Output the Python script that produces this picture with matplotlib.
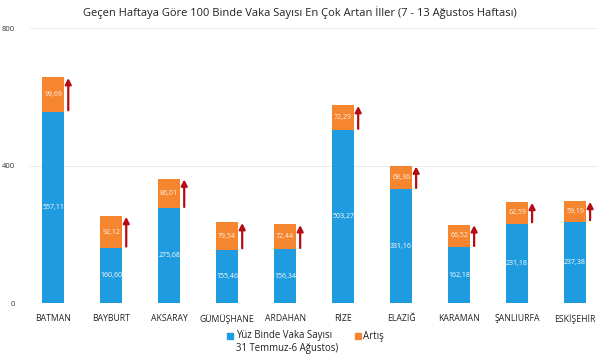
import matplotlib
matplotlib.use("Agg")
import matplotlib.pyplot as plt
from matplotlib.patches import Rectangle
import numpy as np

plt.rcParams['font.family'] = ['Open Sans', 'DejaVu Sans']

title = "Geçen Haftaya Göre 100 Binde Vaka Sayısı En Çok Artan İller (7 - 13 Ağustos Haftası)"
cities = ["BATMAN", "BAYBURT", "AKSARAY", "GÜMÜŞHANE", "ARDAHAN",
          "RİZE", "ELAZIĞ", "KARAMAN", "ŞANLIURFA", "ESKİŞEHİR"]
base = [557.11, 160.60, 275.68, 155.46, 156.34, 503.27, 331.16, 162.18, 231.18, 237.38]
increase = [99.69, 92.12, 86.01, 79.54, 72.44, 72.29, 68.36, 66.52, 62.59, 59.19]
yticks = [0, 400, 800]
legend_labels = ["Yüz Binde Vaka Sayısı\n31 Temmuz-6 Ağustos)", "Artış"]

blue = "#1f9be0"
orange = "#f6852f"
arrow_c = "#b40c12"

W, H = 600, 357
fig = plt.figure(figsize=(6, 3.57), dpi=100)
ax = fig.add_axes([0.05, 0.151, 0.947, 0.77])

x = np.arange(len(cities))
w = 0.38
b1 = ax.bar(x, base, width=w, color=blue, zorder=3)
b2 = ax.bar(x, increase, width=w, bottom=base, color=orange, zorder=3)

def fmt(v):
    return f"{v:.2f}".replace(".", ",")

for xi, b, inc in zip(x, base, increase):
    ax.text(xi, b / 2, fmt(b), ha="center", va="center", color="white", fontsize=5.0, zorder=4)
    ax.text(xi, b + inc / 2, fmt(inc), ha="center", va="center", color="#fff3e6", fontsize=5.0, zorder=4)
    ax.annotate("", xy=(xi + 0.26, b + inc - 2), xytext=(xi + 0.26, b + 4),
                arrowprops=dict(arrowstyle="-|>,head_width=0.18,head_length=0.35",
                                color=arrow_c, lw=1.6, shrinkA=0, shrinkB=0), zorder=5)

ax.set_xlim(-0.4, 9.4)
ax.set_ylim(0, 800)
ax.set_yticks(yticks)
ax.set_yticklabels([str(t) for t in yticks], fontsize=5.5, color="#333333")
ax.set_xticks(x)
ax.set_xticklabels(cities, fontsize=6.2, color="#222222")
ax.tick_params(axis="x", length=0, pad=8)
ax.tick_params(axis="y", length=0, pad=10.8)
ax.grid(axis="y", color="#ececec", lw=0.7, zorder=0)
for s in ax.spines.values():
    s.set_visible(False)
ax.axhline(0, color="#dddddd", lw=0.8, zorder=2)

fig.text(0.5, 1 - 13 / H, title, ha="center", va="center", fontsize=8, color="#222222")

# legend (manual layout)
sq = 5.5
ly = 336
fig.add_artist(Rectangle((227 / W, 1 - (ly + sq / 2) / H), sq / W, sq / H,
                         transform=fig.transFigure, color=blue))
fig.text(236 / W, 1 - (ly - 6) / H, legend_labels[0], ha="left", va="top",
         fontsize=6.9, color="#222222", linespacing=1.3,
         transform=fig.transFigure)
fig.add_artist(Rectangle((355 / W, 1 - (ly + sq / 2) / H), sq / W, sq / H,
                         transform=fig.transFigure, color=orange))
fig.text(363 / W, 1 - ly / H, legend_labels[1], ha="left", va="center",
         fontsize=6.9, color="#222222", transform=fig.transFigure)

fig.savefig("out.png", dpi=100)
